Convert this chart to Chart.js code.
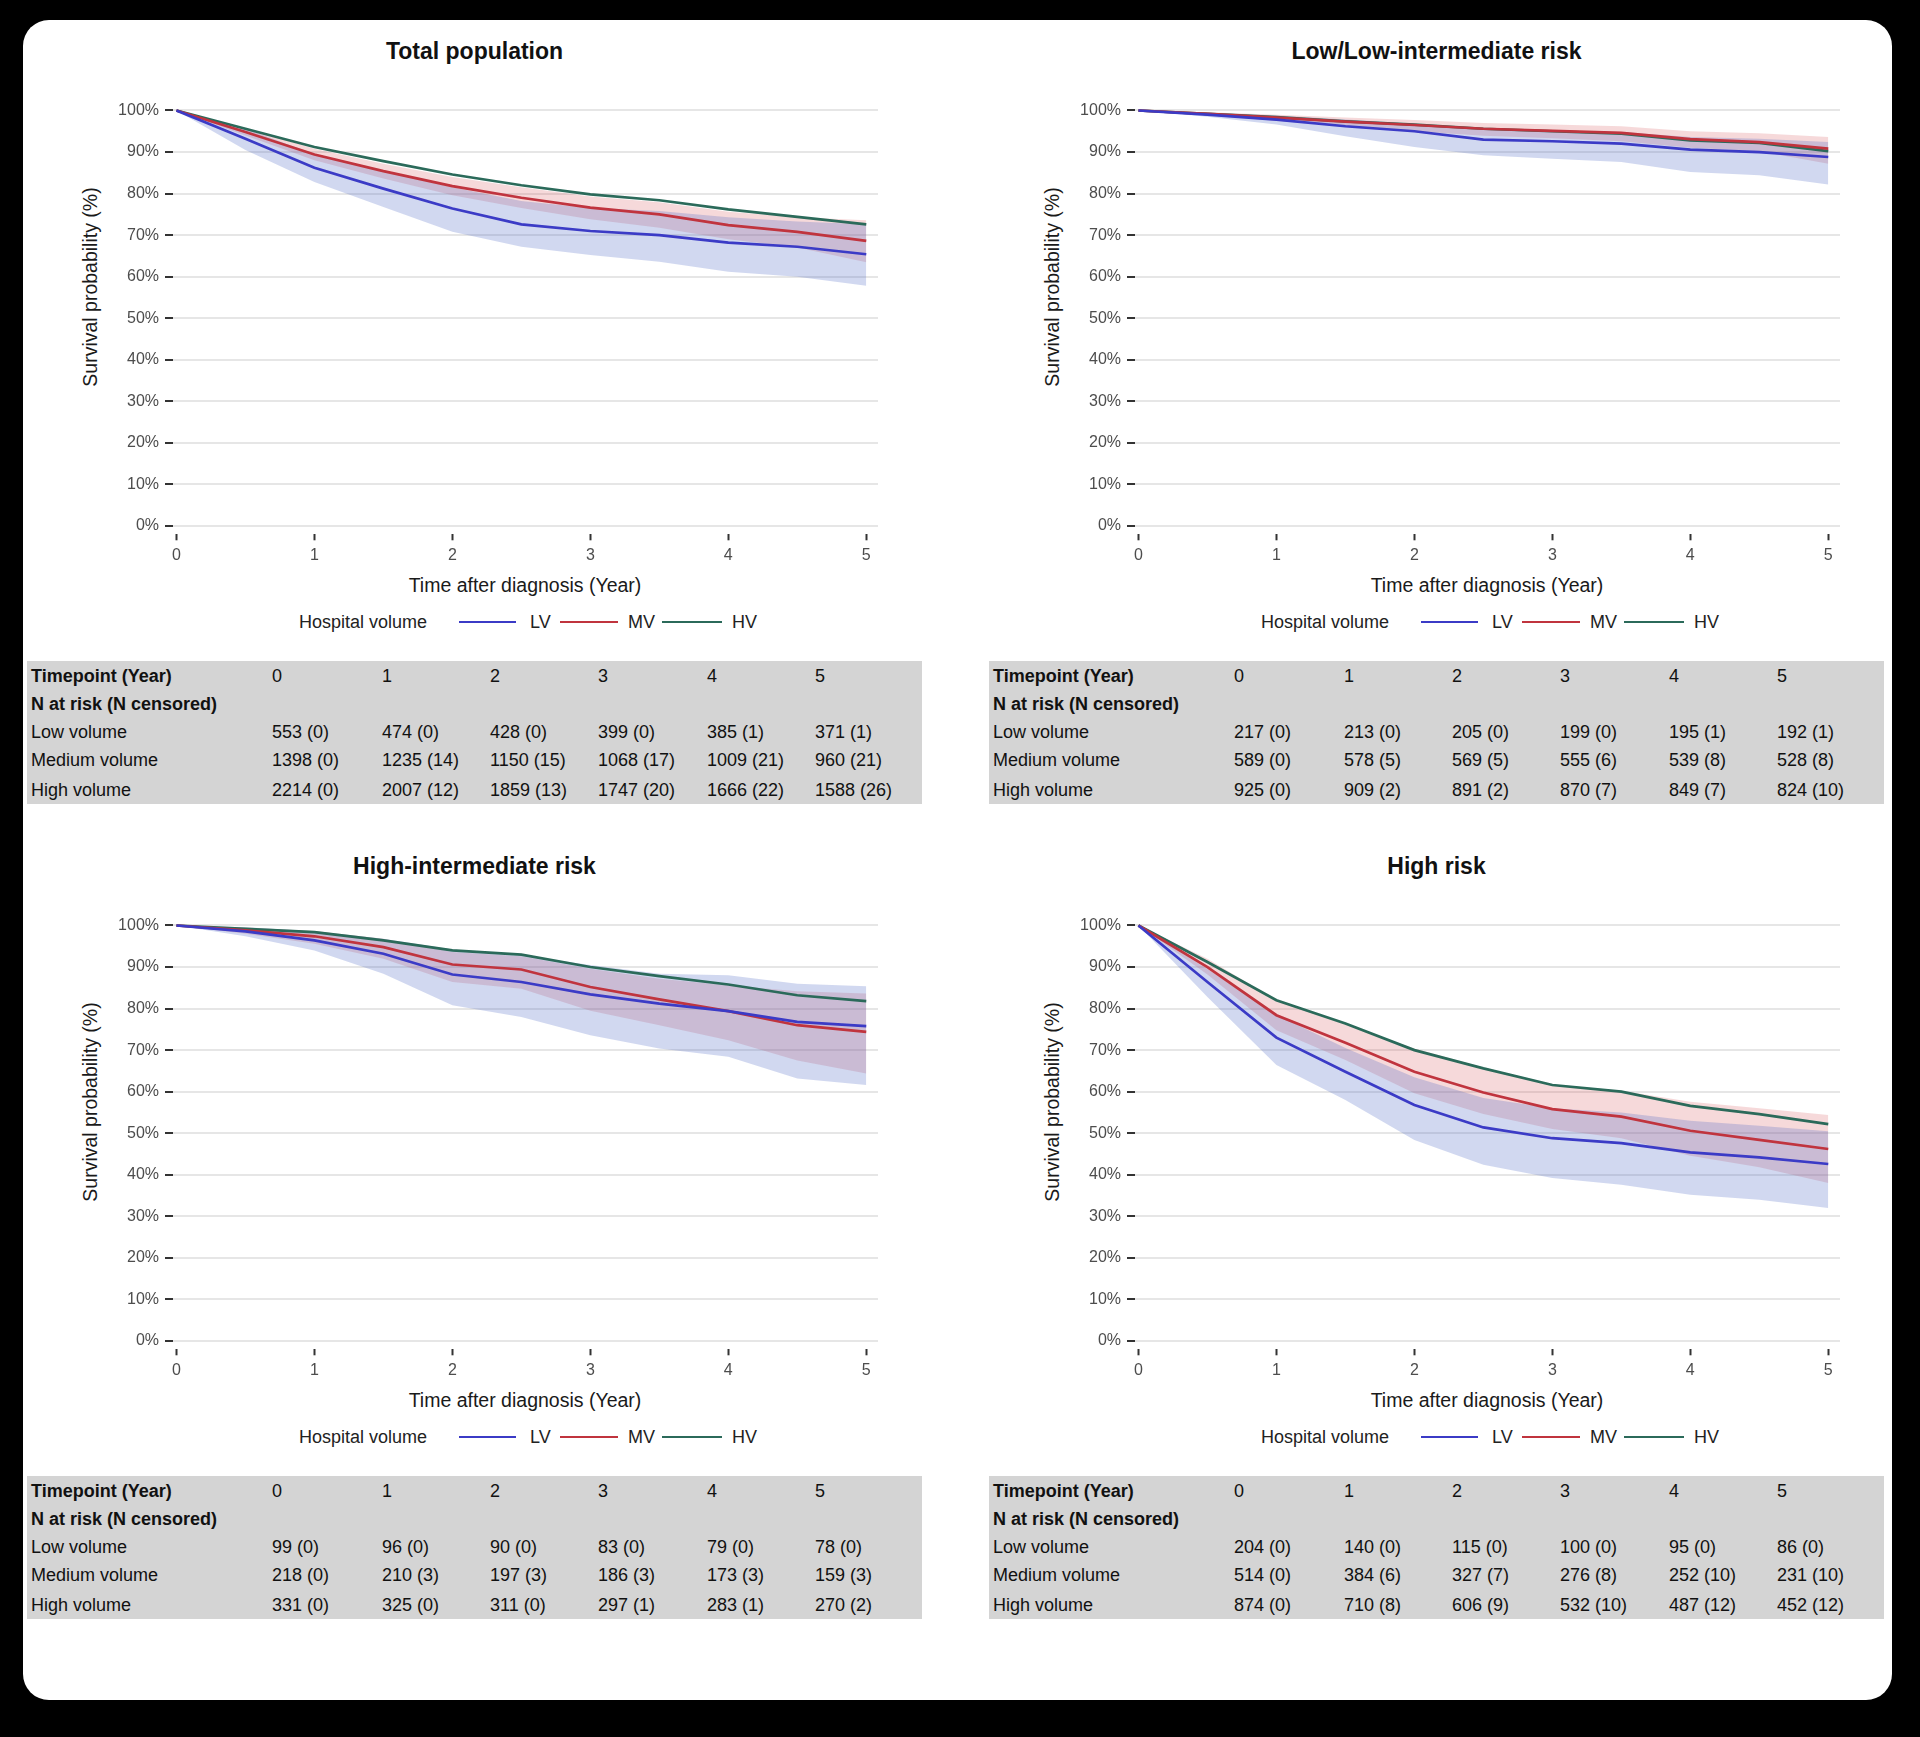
<!DOCTYPE html>
<html><head><meta charset="utf-8">
<script src="https://cdn.jsdelivr.net/npm/chart.js@4.4.1/dist/chart.umd.min.js"></script>
<style>
html,body{margin:0;padding:0;background:#000;}
body{width:1920px;height:1737px;position:relative;overflow:hidden;font-family:"Liberation Sans",Arial,sans-serif;}
#card{position:absolute;left:23px;top:20px;width:1869px;height:1680px;background:#fff;border-radius:26px;}
.abs{position:absolute;white-space:nowrap;}
.ttl{font-weight:bold;font-size:23px;line-height:28px;text-align:center;color:#111;}
.axt{font-size:19.5px;line-height:24px;text-align:center;color:#1a1a1a;}
.leg{font-size:18px;line-height:22px;color:#222;}
.legline{position:absolute;height:2.6px;}
.tbg{position:absolute;background:#d4d4d4;}
.cell{position:absolute;font-size:18px;line-height:22px;color:#111;white-space:nowrap;}
.b{font-weight:bold;}
canvas{position:absolute;}
</style></head>
<body><div id="card"></div>
<script>
// ---------- time grid (years) ----------
const years = [0, 0.5, 1, 1.5, 2, 2.5, 3, 3.5, 4, 4.5, 5];
const tickYears = [0, 1, 2, 3, 4, 5];
const pctTicks = [0, 10, 20, 30, 40, 50, 60, 70, 80, 90, 100];

// ---------- Total population ----------
const totalLV   = [100, 93.2, 86.2, 81.2, 76.4, 72.6, 71.0, 70.0, 68.2, 67.2, 65.4];
const totalLVlo = [100, 90.5, 82.8, 76.8, 70.8, 67.2, 65.2, 63.6, 61.2, 60.0, 57.8];
const totalLVhi = [100, 95.6, 89.5, 85.4, 81.5, 78.2, 76.5, 75.8, 74.3, 73.3, 72.6];
const totalMV   = [100, 94.8, 89.4, 85.4, 81.8, 79.0, 76.6, 75.0, 72.4, 70.8, 68.6];
const totalMVlo = [100, 94.0, 88.0, 83.6, 79.6, 76.5, 73.8, 71.8, 69.0, 67.0, 63.5];
const totalMVhi = [100, 95.7, 90.8, 87.2, 84.0, 81.5, 79.3, 77.9, 75.6, 74.3, 73.6];
const totalHV   = [100, 95.6, 91.2, 87.8, 84.6, 82.0, 79.8, 78.4, 76.2, 74.4, 72.6];

// ---------- Low/Low-intermediate risk ----------
const lowLV   = [100, 99.0, 97.8, 96.2, 95.0, 93.0, 92.6, 92.0, 90.6, 90.0, 88.8];
const lowLVlo = [100, 98.5, 96.6, 93.8, 91.2, 89.2, 88.4, 87.6, 85.2, 84.4, 82.2];
const lowLVhi = [100, 99.5, 98.8, 97.8, 96.8, 95.4, 95.2, 94.8, 93.6, 93.2, 92.4];
const lowMV   = [100, 99.2, 98.3, 97.3, 96.5, 95.6, 95.1, 94.6, 93.1, 92.4, 90.8];
const lowMVlo = [100, 98.8, 97.5, 96.2, 95.0, 93.9, 93.3, 92.6, 91.0, 90.2, 87.2];
const lowMVhi = [100, 99.6, 99.0, 98.3, 97.7, 97.0, 96.6, 96.2, 95.0, 94.5, 93.6];
const lowHV   = [100, 99.2, 98.4, 97.4, 96.6, 95.6, 95.0, 94.4, 92.8, 92.2, 90.2];

// ---------- High-intermediate risk ----------
const hiintLV   = [100, 98.6, 96.4, 93.2, 88.2, 86.4, 83.4, 81.2, 79.4, 76.8, 75.8];
const hiintLVlo = [100, 97.4, 94.0, 88.4, 80.8, 78.0, 73.6, 70.4, 68.4, 63.2, 61.6];
const hiintLVhi = [100, 99.6, 98.6, 96.8, 94.2, 92.8, 90.5, 88.4, 88.0, 86.0, 85.4];
const hiintMV   = [100, 98.8, 97.4, 94.8, 90.6, 89.4, 85.2, 82.2, 79.4, 76.0, 74.4];
const hiintMVlo = [100, 98.0, 95.6, 92.0, 86.4, 84.8, 79.5, 76.0, 72.4, 67.5, 64.4];
const hiintMVhi = [100, 99.5, 98.7, 96.8, 93.6, 92.6, 89.6, 87.2, 85.6, 84.2, 83.6];
const hiintHV   = [100, 99.2, 98.4, 96.4, 94.0, 93.0, 90.0, 87.8, 85.8, 83.2, 81.8];

// ---------- High risk ----------
const highLV   = [100, 86.4, 73.0, 64.8, 56.8, 51.4, 48.8, 47.6, 45.4, 44.2, 42.6];
const highLVlo = [100, 82.8, 66.4, 58.0, 48.4, 42.4, 39.2, 37.6, 35.2, 34.0, 32.0];
const highLVhi = [100, 89.5, 78.5, 70.5, 63.5, 58.5, 56.0, 55.0, 53.0, 51.8, 50.5];
const highMV   = [100, 90.0, 78.4, 71.8, 64.8, 59.8, 55.8, 54.0, 50.6, 48.4, 46.2];
const highMVlo = [100, 88.2, 74.8, 67.6, 59.6, 54.6, 51.0, 48.8, 44.6, 41.8, 38.0];
const highMVhi = [100, 92.0, 82.0, 76.2, 70.4, 65.8, 61.8, 60.2, 57.6, 56.0, 54.4];
const highHV   = [100, 91.2, 82.0, 76.4, 70.0, 65.6, 61.6, 60.0, 56.6, 54.6, 52.2];

// ---------- Numbers at risk (censored) ----------
const timepoints = [0, 1, 2, 3, 4, 5];
const totalRiskLow  = [553, 474, 428, 399, 385, 371];   const totalCensLow  = [0, 0, 0, 0, 1, 1];
const totalRiskMed  = [1398, 1235, 1150, 1068, 1009, 960]; const totalCensMed = [0, 14, 15, 17, 21, 21];
const totalRiskHigh = [2214, 2007, 1859, 1747, 1666, 1588]; const totalCensHigh = [0, 12, 13, 20, 22, 26];
const lowRiskLow  = [217, 213, 205, 199, 195, 192]; const lowCensLow  = [0, 0, 0, 0, 1, 1];
const lowRiskMed  = [589, 578, 569, 555, 539, 528]; const lowCensMed  = [0, 5, 5, 6, 8, 8];
const lowRiskHigh = [925, 909, 891, 870, 849, 824]; const lowCensHigh = [0, 2, 2, 7, 7, 10];
const hiintRiskLow  = [99, 96, 90, 83, 79, 78];       const hiintCensLow  = [0, 0, 0, 0, 0, 0];
const hiintRiskMed  = [218, 210, 197, 186, 173, 159]; const hiintCensMed  = [0, 3, 3, 3, 3, 3];
const hiintRiskHigh = [331, 325, 311, 297, 283, 270]; const hiintCensHigh = [0, 0, 0, 1, 1, 2];
const highRiskLow  = [204, 140, 115, 100, 95, 86];  const highCensLow  = [0, 0, 0, 0, 0, 0];
const highRiskMed  = [514, 384, 327, 276, 252, 231]; const highCensMed  = [0, 6, 7, 8, 10, 10];
const highRiskHigh = [874, 710, 606, 532, 487, 452]; const highCensHigh = [0, 8, 9, 10, 12, 12];

const seriesNames = ['LV', 'MV', 'HV'];
const rowNames = ['Low volume', 'Medium volume', 'High volume'];

// ---------- styling ----------
const colLV = '#3b3bc6', colMV = '#c0343e', colHV = '#2b6a5a';
const fillLV = 'rgba(70,100,195,0.25)', fillMV = 'rgba(215,80,85,0.22)';

const panels = [
  {title:'Total population', ox:0, oy:0,
   lv:totalLV, lvLo:totalLVlo, lvHi:totalLVhi, mv:totalMV, mvLo:totalMVlo, mvHi:totalMVhi, hv:totalHV,
   risk:[[totalRiskLow,totalCensLow],[totalRiskMed,totalCensMed],[totalRiskHigh,totalCensHigh]]},
  {title:'Low/Low-intermediate risk', ox:962, oy:0,
   lv:lowLV, lvLo:lowLVlo, lvHi:lowLVhi, mv:lowMV, mvLo:lowMVlo, mvHi:lowMVhi, hv:lowHV,
   risk:[[lowRiskLow,lowCensLow],[lowRiskMed,lowCensMed],[lowRiskHigh,lowCensHigh]]},
  {title:'High-intermediate risk', ox:0, oy:815,
   lv:hiintLV, lvLo:hiintLVlo, lvHi:hiintLVhi, mv:hiintMV, mvLo:hiintMVlo, mvHi:hiintMVhi, hv:hiintHV,
   risk:[[hiintRiskLow,hiintCensLow],[hiintRiskMed,hiintCensMed],[hiintRiskHigh,hiintCensHigh]]},
  {title:'High risk', ox:962, oy:815,
   lv:highLV, lvLo:highLVlo, lvHi:highLVhi, mv:highMV, mvLo:highMVlo, mvHi:highMVhi, hv:highHV,
   risk:[[highRiskLow,highCensLow],[highRiskMed,highCensMed],[highRiskHigh,highCensHigh]]}
];

Chart.defaults.font.family = '"Liberation Sans", Arial, sans-serif';

function el(tag, cls, txt, style) {
  const e = document.createElement(tag);
  if (cls) e.className = cls;
  if (txt != null) e.textContent = txt;
  Object.assign(e.style, style || {});
  document.body.appendChild(e);
  return e;
}
const pts = arr => years.map((x, i) => ({x: x, y: arr[i]}));

panels.forEach(p => {
  const ox = p.ox, oy = p.oy;
  // title
  el('div', 'abs ttl', p.title, {left:(27+ox)+'px', width:'895px', top:(37+oy)+'px'});
  // y axis title
  el('div', 'abs axt', 'Survival probability (%)', {left:(90-200+ox)+'px', width:'400px', top:(287-12+oy)+'px', transform:'rotate(-90deg)'});
  // x axis title
  el('div', 'abs axt', 'Time after diagnosis (Year)', {left:(325+ox)+'px', width:'400px', top:(585-12+oy)+'px'});
  // legend
  const ly = 622 + oy;
  el('div', 'abs leg', 'Hospital volume', {left:(299+ox)+'px', top:(ly-11)+'px'});
  const legItems = [[459,516,530,colLV],[560,618,628,colMV],[662,722,732,colHV]];
  legItems.forEach((it, k) => {
    el('div', 'legline', null, {left:(it[0]+ox)+'px', width:(it[1]-it[0])+'px', top:(ly-1.3)+'px', background:it[3]});
    el('div', 'abs leg', seriesNames[k], {left:(it[2]+ox)+'px', top:(ly-11)+'px'});
  });
  // risk table
  el('div', 'tbg', null, {left:(27+ox)+'px', top:(661+oy)+'px', width:'895px', height:'143px'});
  const rowY = [676, 704, 732, 760, 790];
  const colX = [272, 382, 490, 598, 707, 815];
  el('div', 'cell b', 'Timepoint (Year)', {left:(31+ox)+'px', top:(rowY[0]-11+oy)+'px'});
  timepoints.forEach((t, j) => el('div', 'cell', String(t), {left:(colX[j]+ox)+'px', top:(rowY[0]-11+oy)+'px'}));
  el('div', 'cell b', 'N at risk (N censored)', {left:(31+ox)+'px', top:(rowY[1]-11+oy)+'px'});
  p.risk.forEach((r, i) => {
    const y = rowY[i+2] - 11 + oy;
    el('div', 'cell', rowNames[i], {left:(31+ox)+'px', top:y+'px'});
    r[0].forEach((n, j) => el('div', 'cell', n + ' (' + r[1][j] + ')', {left:(colX[j]+ox)+'px', top:y+'px'}));
  });

  // chart
  const cv = document.createElement('canvas');
  cv.width = 800; cv.height = 480;
  cv.style.left = (90+ox)+'px'; cv.style.top = (98+oy)+'px';
  cv.style.width = '800px'; cv.style.height = '480px';
  document.body.appendChild(cv);

  const line = (lab, arr, c) => ({label:lab, data:pts(arr), borderColor:c, borderWidth:2.7, pointRadius:0, tension:0, fill:false});
  const band = (lab, arr, f, fill) => ({label:lab, data:pts(arr), borderColor:'rgba(0,0,0,0)', borderWidth:0, pointRadius:0, tension:0, backgroundColor:f, fill:fill});

  new Chart(cv, {
    type:'line',
    data:{datasets:[
      line('LV', p.lv, colLV),
      line('MV', p.mv, colMV),
      line('HV', p.hv, colHV),
      band('LV upper', p.lvHi, fillLV, '+1'),
      band('LV lower', p.lvLo, fillLV, false),
      band('MV upper', p.mvHi, fillMV, '+1'),
      band('MV lower', p.mvLo, fillMV, false)
    ]},
    options:{
      responsive:false, animation:false, devicePixelRatio:1,
      layout:{padding:{left:0, right:12, top:10.4, bottom:0}},
      plugins:{legend:{display:false}, tooltip:{enabled:false}},
      scales:{
        x:{type:'linear', min:-0.025, max:5.085,
           afterBuildTicks:s => { s.ticks = tickYears.map(v => ({value:v})); },
           afterFit:s => { s.height = 43.7; s.paddingLeft = 0; s.paddingRight = 0; },
           border:{display:false},
           grid:{drawOnChartArea:false, drawTicks:true, tickLength:6, tickColor:'#333', tickWidth:2},
           ticks:{color:'#4d4d4d', font:{size:16}, padding:6, maxRotation:0, callback:v => String(v)}},
        y:{type:'linear', min:-2, max:100.5,
           afterBuildTicks:s => { s.ticks = pctTicks.map(v => ({value:v})); },
           afterFit:s => { s.width = 83; s.paddingTop = 0; s.paddingBottom = 0; },
           border:{display:false},
           grid:{color:'#e6e6e6', lineWidth:2, drawTicks:true, tickLength:8, tickColor:'#333', tickWidth:2},
           ticks:{color:'#4d4d4d', font:{size:16}, padding:6, callback:v => v + '%'}}
      }
    }
  });
});
</script>
</body></html>
